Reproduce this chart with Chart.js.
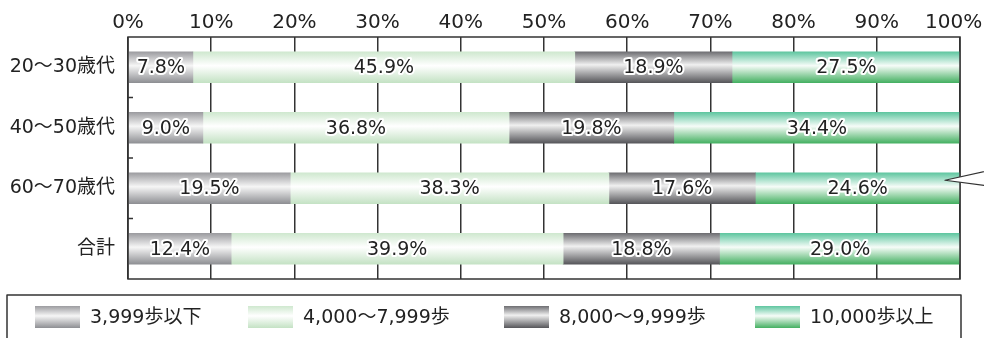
<!DOCTYPE html>
<html>
<head>
<meta charset="utf-8">
<script src="https://cdn.jsdelivr.net/npm/chart.js@4"></script>
<style>
  html, body { margin: 0; padding: 0; background: #fff; }
  #wrap { width: 984px; height: 338px; }
</style>
</head>
<body>
<div id="wrap"><canvas id="c" width="984" height="338"></canvas></div>
<script>
const categories = ['20〜30歳代', '40〜50歳代', '60〜70歳代', '合計'];
const seriesNames = ['3,999歩以下', '4,000〜7,999歩', '8,000〜9,999歩', '10,000歩以上'];
const under4000 = [7.8, 9.0, 19.5, 12.4];
const from4000 = [45.9, 36.8, 38.3, 39.9];
const from8000 = [18.9, 19.8, 17.6, 18.8];
const over10000 = [27.5, 34.4, 24.6, 29.0];
const xTicks = [0, 10, 20, 30, 40, 50, 60, 70, 80, 90, 100];

const FONT = '"DejaVu Sans", "Noto Sans CJK JP", sans-serif';
const BAR = 31;

// gradient stops per series (top -> middle -> bottom)
const palettes = [
  [[0, '#9c9ca0'], [0.45, '#f6f6f6'], [1, '#8e8f93']],
  [[0, '#cfe8cf'], [0.45, '#ffffff'], [1, '#c4e2c4']],
  [[0, '#6e6e72'], [0.42, '#f0f0f0'], [1, '#56565a']],
  [[0, '#5fc6a0'], [0.45, '#f6fcf8'], [1, '#45b062']]
];

function grad(ctx, y0, y1, stops) {
  const g = ctx.createLinearGradient(0, y0, 0, y1);
  stops.forEach(s => g.addColorStop(s[0], s[1]));
  return g;
}

function barFill(si) {
  return (c) => {
    const chart = c.chart;
    if (!chart.chartArea || !chart.scales.y) return palettes[si][1][1];
    const yc = chart.scales.y.getPixelForValue(c.dataIndex);
    return grad(chart.ctx, yc - BAR / 2, yc + BAR / 2, palettes[si]);
  };
}

const values = [under4000, from4000, from8000, over10000];

const framePlugin = {
  id: 'frame',
  afterDatasetsDraw(chart) {
    const { ctx, chartArea: a, scales: { y } } = chart;
    ctx.save();
    ctx.strokeStyle = '#333';
    ctx.lineWidth = 1.5;
    ctx.strokeRect(a.left, a.top, a.right - a.left, a.bottom - a.top);
    // small ticks between categories on the left axis
    for (let i = 0; i < categories.length - 1; i++) {
      const yy = (y.getPixelForValue(i) + y.getPixelForValue(i + 1)) / 2;
      ctx.beginPath();
      ctx.moveTo(a.left, yy);
      ctx.lineTo(a.left + 5, yy);
      ctx.stroke();
    }
    // value labels
    ctx.font = '19px ' + FONT;
    ctx.textAlign = 'center';
    ctx.textBaseline = 'middle';
    ctx.lineJoin = 'round';
    chart.data.datasets.forEach((ds, di) => {
      chart.getDatasetMeta(di).data.forEach((bar, i) => {
        const x = (bar.base + bar.x) / 2;
        const t = ds.data[i].toFixed(1) + '%';
        ctx.strokeStyle = '#fff';
        ctx.lineWidth = 4;
        ctx.strokeText(t, x, bar.y + 1);
        ctx.fillStyle = '#222';
        ctx.fillText(t, x, bar.y + 1);
      });
    });
    // callout pointer on the right
    const py = y.getPixelForValue(2) - 8;
    ctx.beginPath();
    ctx.moveTo(990, py - 10);
    ctx.lineTo(945, py);
    ctx.lineTo(990, py + 6);
    ctx.fillStyle = '#fff';
    ctx.fill();
    ctx.strokeStyle = '#333';
    ctx.lineWidth = 1.2;
    ctx.stroke();

    // legend box
    ctx.lineWidth = 1.5;
    ctx.strokeStyle = '#333';
    ctx.strokeRect(7, 295, 954, 60);
    ctx.textAlign = 'left';
    ctx.font = '19px ' + FONT;
    const legendX = [35, 248, 504, 755];
    const ly = 306, lh = 22;
    seriesNames.forEach((name, si) => {
      const lx = legendX[si];
      ctx.fillStyle = grad(ctx, ly, ly + lh, palettes[si]);
      ctx.fillRect(lx, ly, 45, lh);
      ctx.fillStyle = '#222';
      ctx.fillText(name, lx + 55, ly + lh / 2 + 1);
    });
    ctx.restore();
  }
};

new Chart(document.getElementById('c'), {
  type: 'bar',
  data: {
    labels: categories,
    datasets: seriesNames.map((name, si) => ({
      label: name,
      data: values[si],
      backgroundColor: barFill(si),
      borderWidth: 0,
      barThickness: BAR
    }))
  },
  options: {
    indexAxis: 'y',
    responsive: false,
    animation: false,
    layout: { padding: { left: 0, right: 24, top: 0, bottom: 59 } },
    plugins: { legend: { display: false }, tooltip: { enabled: false } },
    scales: {
      x: {
        position: 'top',
        stacked: true,
        min: 0,
        max: 100,
        afterBuildTicks: (s) => { s.ticks = xTicks.map(v => ({ value: v })); },
        afterFit: (s) => { s.height = 37; s.paddingRight = 0; s.paddingLeft = 0; },
        ticks: {
          // trailing no-break spaces nudge the last label left so it stays on the canvas
          callback: (v) => v === 100 ? v + '%\u00a0\u00a0' : v + '%',
          color: '#222',
          font: { family: FONT, size: 20 },
          padding: 2,
          maxRotation: 0
        },
        grid: { color: '#333', lineWidth: 1.5, drawTicks: false },
        border: { display: false }
      },
      y: {
        stacked: true,
        afterFit: (s) => { s.width = 128; },
        ticks: {
          color: '#222',
          font: { family: FONT, size: 19 },
          padding: 5
        },
        grid: { display: false },
        border: { display: false }
      }
    }
  },
  plugins: [framePlugin]
});
</script>
</body>
</html>
